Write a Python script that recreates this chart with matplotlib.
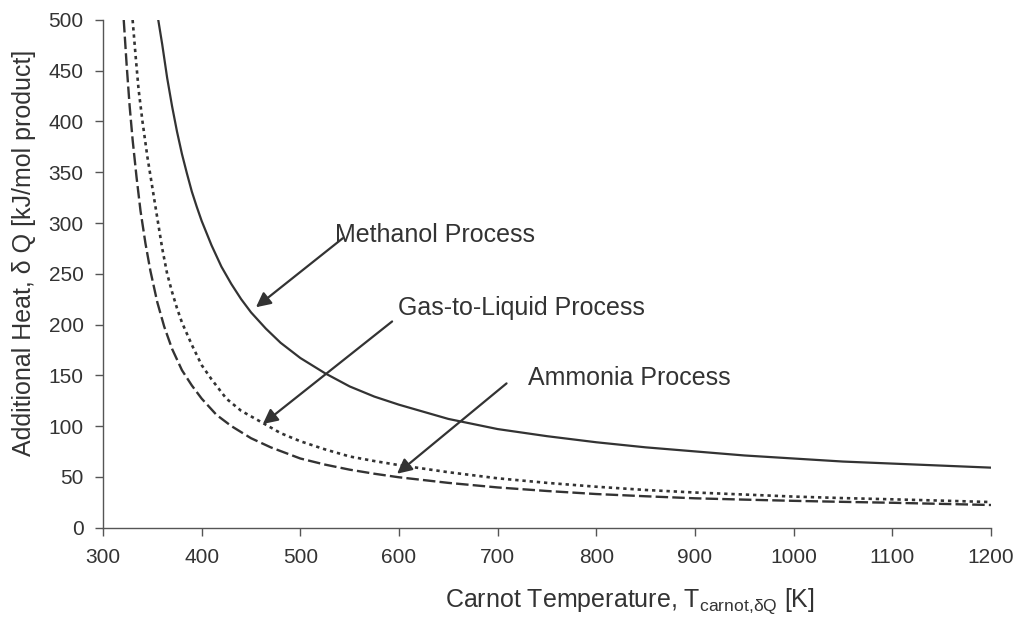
import matplotlib
matplotlib.use('Agg')
import matplotlib.pyplot as plt

plt.rcParams['font.family'] = ['Liberation Sans', 'DejaVu Sans']
plt.rcParams['mathtext.fontset'] = 'custom'
plt.rcParams['mathtext.rm'] = 'Liberation Sans'
plt.rcParams['lines.scale_dashes'] = False

# ---------------------------------------------------------------
# data (T in K, dQ in kJ/mol product)
# ---------------------------------------------------------------
methanol_T = [356, 360, 365, 370, 375, 380, 385, 390, 395, 400, 410, 420, 430,
              440, 450, 465, 480, 500, 525, 550, 575, 600, 650, 700, 750, 800,
              850, 900, 950, 1000, 1050, 1100, 1150, 1200]
methanol_Q = [500, 476, 443, 415, 390, 368, 349, 331, 316, 302, 278, 257, 240,
              225, 212, 196, 182, 167, 152, 139, 129, 121, 107, 97, 90, 84,
              79, 75, 71, 68, 65, 63, 61, 59]

gtl_T = [330, 333, 336, 340, 345, 350, 355, 360, 365, 370, 375, 380, 390, 400,
         410, 425, 440, 462, 480, 500, 525, 550, 575, 600, 650, 700, 750, 800,
         850, 900, 950, 1000, 1050, 1100, 1150, 1200]
gtl_Q = [500, 465, 432, 400, 365, 335, 305, 275, 250, 232, 216, 202, 180, 160,
         146, 127, 115, 103, 93, 85, 77, 70, 65.5, 61.5, 54.5, 48.5, 44, 40.2,
         37, 34.5, 32.5, 30.5, 29, 27.8, 26.5, 25.1]

ammonia_T = [321, 324, 327, 330, 334, 338, 343, 348, 355, 362, 370, 380, 390,
             400, 415, 430, 450, 470, 500, 525, 550, 575, 600, 650, 700, 750,
             800, 850, 900, 950, 1000, 1050, 1100, 1150, 1200]
ammonia_Q = [500, 455, 415, 382, 345, 312, 280, 253, 222, 198, 176, 155, 140,
             127, 111, 100, 88, 79, 68, 62, 57, 53, 49.5, 44, 39.5, 36,
             33, 30.8, 28.8, 27.5, 26.3, 25.3, 24.4, 23.3, 22.2]

x_ticks = list(range(300, 1201, 100))
y_ticks = list(range(0, 501, 50))

# annotation (label, text anchor, arrow start, arrow tip) in data units
labels = ['Methanol Process', 'Gas-to-Liquid Process', 'Ammonia Process']
text_pos = [(535, 288), (599, 216), (731, 147)]
arrow_start = [(543, 285), (593, 203), (709, 142)]
arrow_tip = [(455, 217), (462, 102), (598, 53)]

ink = '#333333'

fig = plt.figure(figsize=(10.23, 6.17), dpi=100)
ax = fig.add_axes([0.1007, 0.1450, 0.8680, 0.8226])

ax.plot(methanol_T, methanol_Q, color=ink, lw=1.6, solid_joinstyle='round')
ax.plot(gtl_T, gtl_Q, color=ink, lw=1.9, dashes=(2.4, 2.8))
ax.plot(ammonia_T, ammonia_Q, color=ink, lw=1.7, dashes=(9, 3))

for lab, tp, st, tip in zip(labels, text_pos, arrow_start, arrow_tip):
    ax.text(tp[0], tp[1], lab, fontsize=18, color=ink, ha='left', va='center')
    ax.annotate('', xy=tip, xytext=st,
                arrowprops=dict(arrowstyle='-|>', color=ink, lw=1.6,
                                mutation_scale=22, shrinkA=0, shrinkB=0))

ax.set_xlim(300, 1200)
ax.set_ylim(0, 500)
ax.set_xticks(x_ticks)
ax.set_yticks(y_ticks)
ax.tick_params(direction='out', length=6, width=1, color='#555555',
               labelsize=15, labelcolor=ink)
ax.tick_params(axis='x', pad=9)
ax.tick_params(axis='y', pad=8)
for s in ['top', 'right']:
    ax.spines[s].set_visible(False)
for s in ['left', 'bottom']:
    ax.spines[s].set_color('#555555')
    ax.spines[s].set_linewidth(1)

fig.text(0.0235, 0.59, 'Additional Heat, δ Q [kJ/mol product]', rotation=90,
         fontsize=18, color=ink, ha='center', va='center')
fig.text(0.435, 0.016, r'Carnot Temperature, T$_{\mathregular{carnot{,}δQ}}$ [K]',
         fontsize=18, color=ink, ha='left', va='baseline')

fig.savefig('out.png', dpi=100)
